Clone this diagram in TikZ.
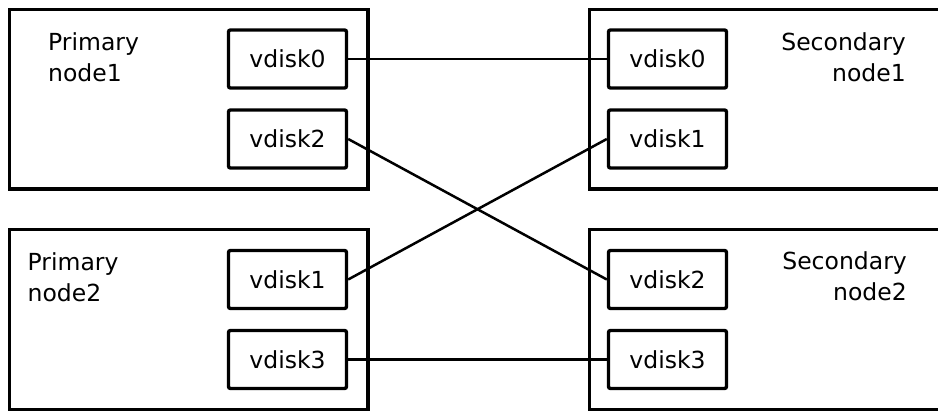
\documentclass[tikz,border=0pt]{standalone}
\usepackage{fontspec}
\setmainfont{DejaVu Sans}
\begin{document}
\begin{tikzpicture}[x=1pt,y=-1pt,
  every node/.style={font=\fontsize{23.5}{31}\selectfont, text=black},
  hostbox/.style={draw, line width=3.4pt, inner sep=0pt, minimum width=#1},
  hostbox/.default=358.5,
  diskbox/.style={draw, line width=3.4pt, rounded corners=2pt, minimum width=118pt, minimum height=58pt, inner sep=0pt},
  lbl/.style={inner sep=0pt, align=left},
  rlbl/.style={inner sep=0pt, align=right},
  link/.style={line width=2.5pt}]
\useasboundingbox (0,0) rectangle (938,411);
\fill[white] (0,0) rectangle (938,411);
% host boxes
\node[hostbox, minimum height=179.5pt] (pn1) at (188.75,99.25) {};
\node[hostbox, minimum height=180pt] (pn2) at (188.75,319.5) {};
\node[hostbox=371, minimum height=179.5pt] (sn1) at (775,99.25) {};
\node[hostbox=371, minimum height=180pt] (sn2) at (775,319.5) {};
% host labels
\node[lbl, anchor=base west] (pn1l) at (48,82) {Primary\\node1};
\node[lbl, anchor=base west] (pn2l) at (27.5,301.5) {Primary\\node2};
\node[rlbl, anchor=base east] (sn1l) at (906,82) {Secondary\\node1};
\node[rlbl, anchor=base east] (sn2l) at (907,300.5) {Secondary\\node2};
% disks
\node[diskbox] (p1d0) at (287.5,59) {vdisk0};
\node[diskbox] (p1d2) at (287.5,139) {vdisk2};
\node[diskbox] (p2d1) at (287.5,279.5) {vdisk1};
\node[diskbox] (p2d3) at (287.5,359.5) {vdisk3};
\node[diskbox] (s1d0) at (667.5,59) {vdisk0};
\node[diskbox] (s1d1) at (667.5,139) {vdisk1};
\node[diskbox] (s2d2) at (667.5,279.5) {vdisk2};
\node[diskbox] (s2d3) at (667.5,359.5) {vdisk3};
% links
\draw[link] (p1d0.east) -- (s1d0.west);
\draw[link] (p1d2.east) -- (s2d2.west);
\draw[link] (p2d1.east) -- (s1d1.west);
\draw[link] (p2d3.east) -- (s2d3.west);
\end{tikzpicture}
\end{document}
